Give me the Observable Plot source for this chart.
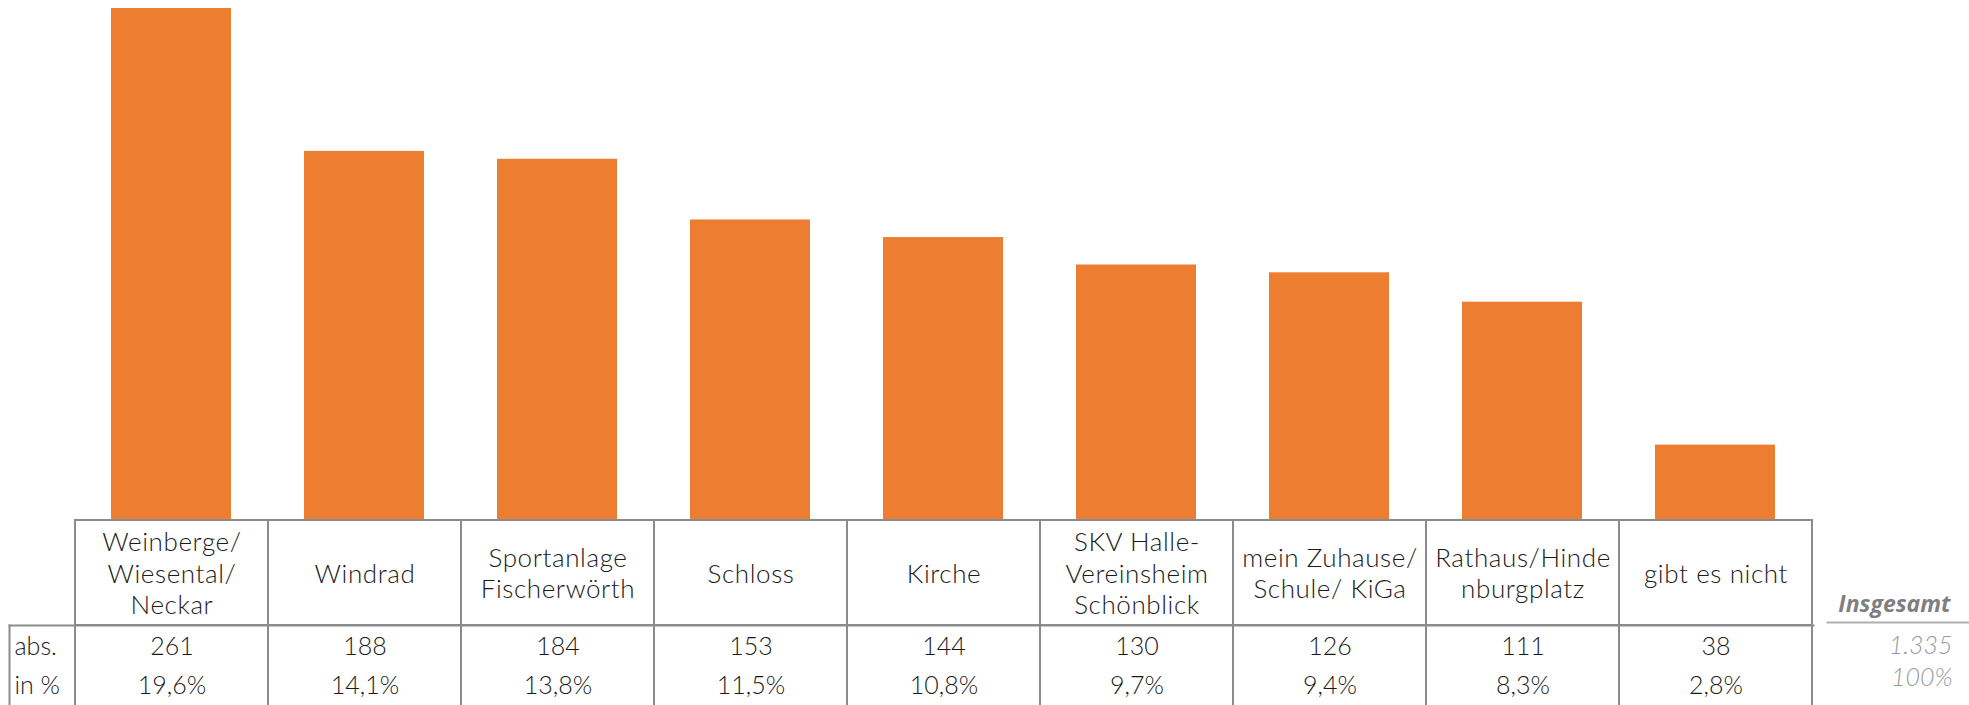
<!DOCTYPE html>
<html>
<head>
<meta charset="utf-8">
<script src="https://cdn.jsdelivr.net/npm/d3@7"></script>
<script src="https://cdn.jsdelivr.net/npm/@observablehq/plot@0.6"></script>
<style>
  html, body { margin: 0; padding: 0; background: #fff; }
  #chart svg { display: block; }
</style>
</head>
<body>
<div id="chart"></div>
<script>
// ---- data ----
const categories = [
  "Weinberge/\nWiesental/\nNeckar",
  "Windrad",
  "Sportanlage\nFischerwörth",
  "Schloss",
  "Kirche",
  "SKV Halle-\nVereinsheim\nSchönblick",
  "mein Zuhause/\nSchule/ KiGa",
  "Rathaus/Hinde\nnburgplatz",
  "gibt es nicht"
];
const absValues = [261, 188, 184, 153, 144, 130, 126, 111, 38];
const pctValues = [19.6, 14.1, 13.8, 11.5, 10.8, 9.7, 9.4, 8.3, 2.8];
const rowLabels = ["abs.", "in %"];
const totalLabel = "Insgesamt";
const totalAbs = "1.335";
const totalPct = "100%";

// ---- layout ----
const W = 1969;
const mL = 73, mR = 156;
const FONT = "Lato, 'Open Sans', sans-serif";
const lineColor = "#8c8c8c";
const textColor = "#1a1a1a";
const FS = 25;
const FW = 300;

const rows = categories.map((c, i) => ({cat: c, abs: absValues[i], pct: pctValues[i]}));
const fmtPct = v => v.toFixed(1).replace(".", ",") + "%";

const bars = Plot.plot({
  width: W,
  height: 519,
  marginTop: 8,
  marginBottom: 0,
  marginLeft: mL,
  marginRight: mR,
  style: {fontFamily: FONT, background: "#fff"},
  x: {domain: categories, paddingInner: 0.38, paddingOuter: 0.19, axis: null},
  y: {domain: [0, 261], axis: null},
  marks: [
    Plot.barY(rows, {x: "cat", y: "abs", fill: "#ED7D31"})
  ]
});

const table = Plot.plot({
  width: W,
  height: 186,
  marginTop: 0,
  marginBottom: 0,
  marginLeft: mL,
  marginRight: mR,
  style: {fontFamily: FONT, background: "#fff", overflow: "visible"},
  x: {domain: categories, padding: 0, axis: null},
  marks: [
    // header cells
    Plot.cell(rows, {x: "cat", fill: "none", stroke: lineColor, strokeWidth: 2, insetTop: 1, insetBottom: 80}),
    // value cells
    Plot.cell(rows, {x: "cat", fill: "none", stroke: lineColor, strokeWidth: 2, insetTop: 106, insetBottom: -10}),
    // row label column borders
    Plot.frame({anchor: "left", insetLeft: -64, insetTop: 106, stroke: lineColor, strokeWidth: 2}),
    Plot.frame({anchor: "top", insetLeft: -64, insetTop: 106, stroke: lineColor, strokeWidth: 2}),
    // category labels
    Plot.text(rows, {x: "cat", text: "cat", frameAnchor: "top", dy: 53, lineAnchor: "middle",
      fontSize: 26, fontWeight: FW, lineHeight: 1.21, fill: textColor}),
    // values
    Plot.text(rows, {x: "cat", text: d => String(d.abs), frameAnchor: "top", dy: 127, lineAnchor: "middle",
      fontSize: FS, fontWeight: FW, fill: textColor}),
    Plot.text(rows, {x: "cat", text: d => fmtPct(d.pct), frameAnchor: "top", dy: 166, lineAnchor: "middle",
      fontSize: FS, fontWeight: FW, fill: textColor}),
    // row labels
    Plot.text([rowLabels[0]], {text: d => d, frameAnchor: "top-left", dx: -59, dy: 127, lineAnchor: "middle",
      textAnchor: "start", fontSize: FS, fontWeight: FW, fill: textColor}),
    Plot.text([rowLabels[1]], {text: d => d, frameAnchor: "top-left", dx: -59, dy: 166, lineAnchor: "middle",
      textAnchor: "start", fontSize: FS, fontWeight: FW, fill: textColor}),
    // totals
    Plot.text([totalLabel], {text: d => d, frameAnchor: "top-right", dx: 137, dy: 85, lineAnchor: "middle",
      textAnchor: "end", fontSize: 23, fontWeight: "bold", fontStyle: "italic", fill: "#7f7f7f",
      fontFamily: "'Open Sans', Lato, sans-serif"}),
    Plot.frame({anchor: "top", insetTop: 103, insetLeft: 1827 - mL, insetRight: -mR, stroke: "#b0b0b0", strokeWidth: 2}),
    Plot.text([totalAbs], {text: d => d, frameAnchor: "top-right", dx: 139, dy: 126, lineAnchor: "middle",
      textAnchor: "end", fontSize: FS, fontWeight: 300, fontStyle: "italic", fill: "#999"}),
    Plot.text([totalPct], {text: d => d, frameAnchor: "top-right", dx: 139, dy: 158, lineAnchor: "middle",
      textAnchor: "end", fontSize: FS, fontWeight: 300, fontStyle: "italic", fill: "#999"})
  ]
});

// slightly wider letter spacing for the category labels (the first text mark)
const headerTexts = table.querySelectorAll('g[aria-label="text"]')[0];
if (headerTexts) headerTexts.style.letterSpacing = "0.6px";

const root = document.getElementById("chart");
root.appendChild(bars);
root.appendChild(table);
</script>
</body>
</html>
